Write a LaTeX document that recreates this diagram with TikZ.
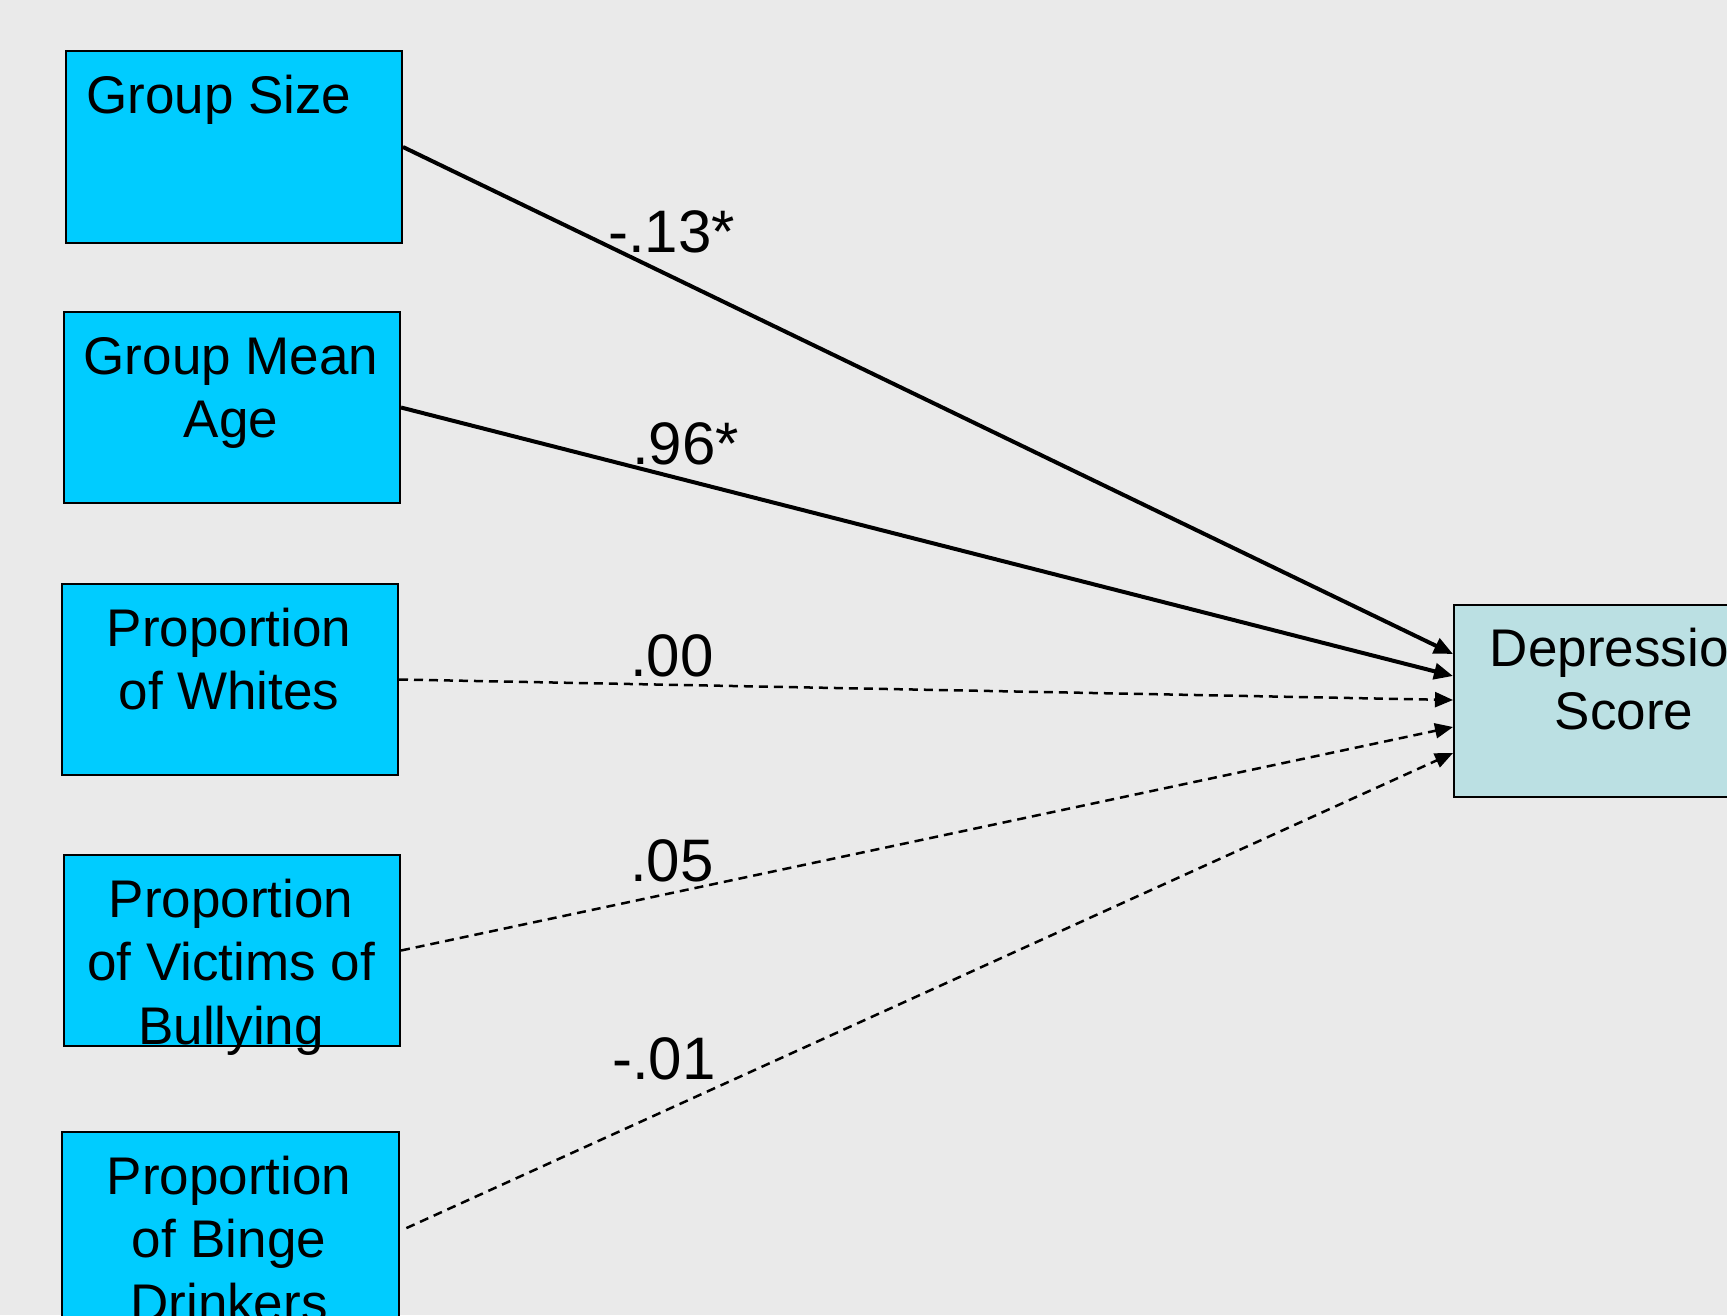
\documentclass[tikz,border=0pt]{standalone}
\usepackage{fontspec}
\setmainfont{Liberation Sans}
\usetikzlibrary{arrows.meta,calc}
\definecolor{bg}{HTML}{EAEAEA}
\definecolor{boxcyan}{HTML}{00CCFF}
\definecolor{depfill}{HTML}{BBE0E3}
\begin{document}
\begin{tikzpicture}[x=1pt,y=-1pt,
  varbox/.style={draw=black,line width=2pt,fill=boxcyan,rectangle,inner sep=0pt,anchor=north west},
  depbox/.style={varbox,fill=depfill},
  boxtext/.style={inner sep=0pt,align=center,font=\fontsize{53}{63.6}\selectfont},
  coef/.style={inner sep=0pt,anchor=base west,font=\fontsize{60}{72}\selectfont},
  sig/.style={line width=4pt,-{Triangle[length=19pt,width=16pt]}},
  nonsig/.style={line width=2.5pt,dash pattern=on 9pt off 6pt,-{Triangle[length=18pt,width=15pt]}}]
\fill[bg] (0,0) rectangle (1727,1315);
\useasboundingbox (0,0) rectangle (1727,1315);
\clip (0,0) rectangle (1727,1315);
% boxes
\node[varbox,minimum width=336pt,minimum height=192pt] (gs) at (65,50) {};
\node[varbox,minimum width=336pt,minimum height=191pt] (gma) at (63,311) {};
\node[varbox,minimum width=336pt,minimum height=191pt] (pw) at (61,583) {};
\node[varbox,minimum width=336pt,minimum height=191pt] (pv) at (63,854) {};
\node[varbox,minimum width=337pt,minimum height=192pt] (pb) at (61,1131) {};
\node[depbox,minimum width=342pt,minimum height=192pt] (dep) at (1453,604) {};
% texts (anchor=base is the baseline of the last line)
\node[boxtext,anchor=base west] (gst) at (86,113) {Group Size};
\node[boxtext,anchor=base] (gmat) at (231,437.6) {Group Mean\\Age};
\node[boxtext,anchor=base] (pwt) at (229,709.6) {Proportion\\of Whites};
\node[boxtext,anchor=base] (pvt) at (231,1044.2) {Proportion\\of Victims of\\Bullying};
\node[boxtext,anchor=base] (pbt) at (229,1321.2) {Proportion\\of Binge\\Drinkers};
\node[boxtext,anchor=base] (dept) at (1624,729.6) {Depression\\Score};
% arrow targets
\coordinate (t1) at ($(dep.west)+(0,-47)$);
\coordinate (t2) at ($(dep.west)+(0,-25)$);
\coordinate (t3) at ($(dep.west)+(0,-1)$);
\coordinate (t4) at ($(dep.west)+(0,26)$);
\coordinate (t5) at ($(dep.west)+(0,52)$);
\coordinate (s5) at ($(pb.east)+(0,3)$);
% connectors
\draw[sig] (gs.east) -- (t1);
\draw[sig] (gma.east) -- (t2);
\draw[nonsig] (pw.east) -- (t3);
\draw[nonsig] (pv.east) -- (t4);
\draw[nonsig,shorten <=7pt] (s5) -- (t5);
% coefficients
\node[coef] (c1) at (608,252) {-.13*};
\node[coef] (c2) at (632,464) {.96*};
\node[coef] (c3) at (630,676) {.00};
\node[coef] (c4) at (630,881) {.05};
\node[coef] (c5) at (612,1079) {-.01};
\end{tikzpicture}
\end{document}
